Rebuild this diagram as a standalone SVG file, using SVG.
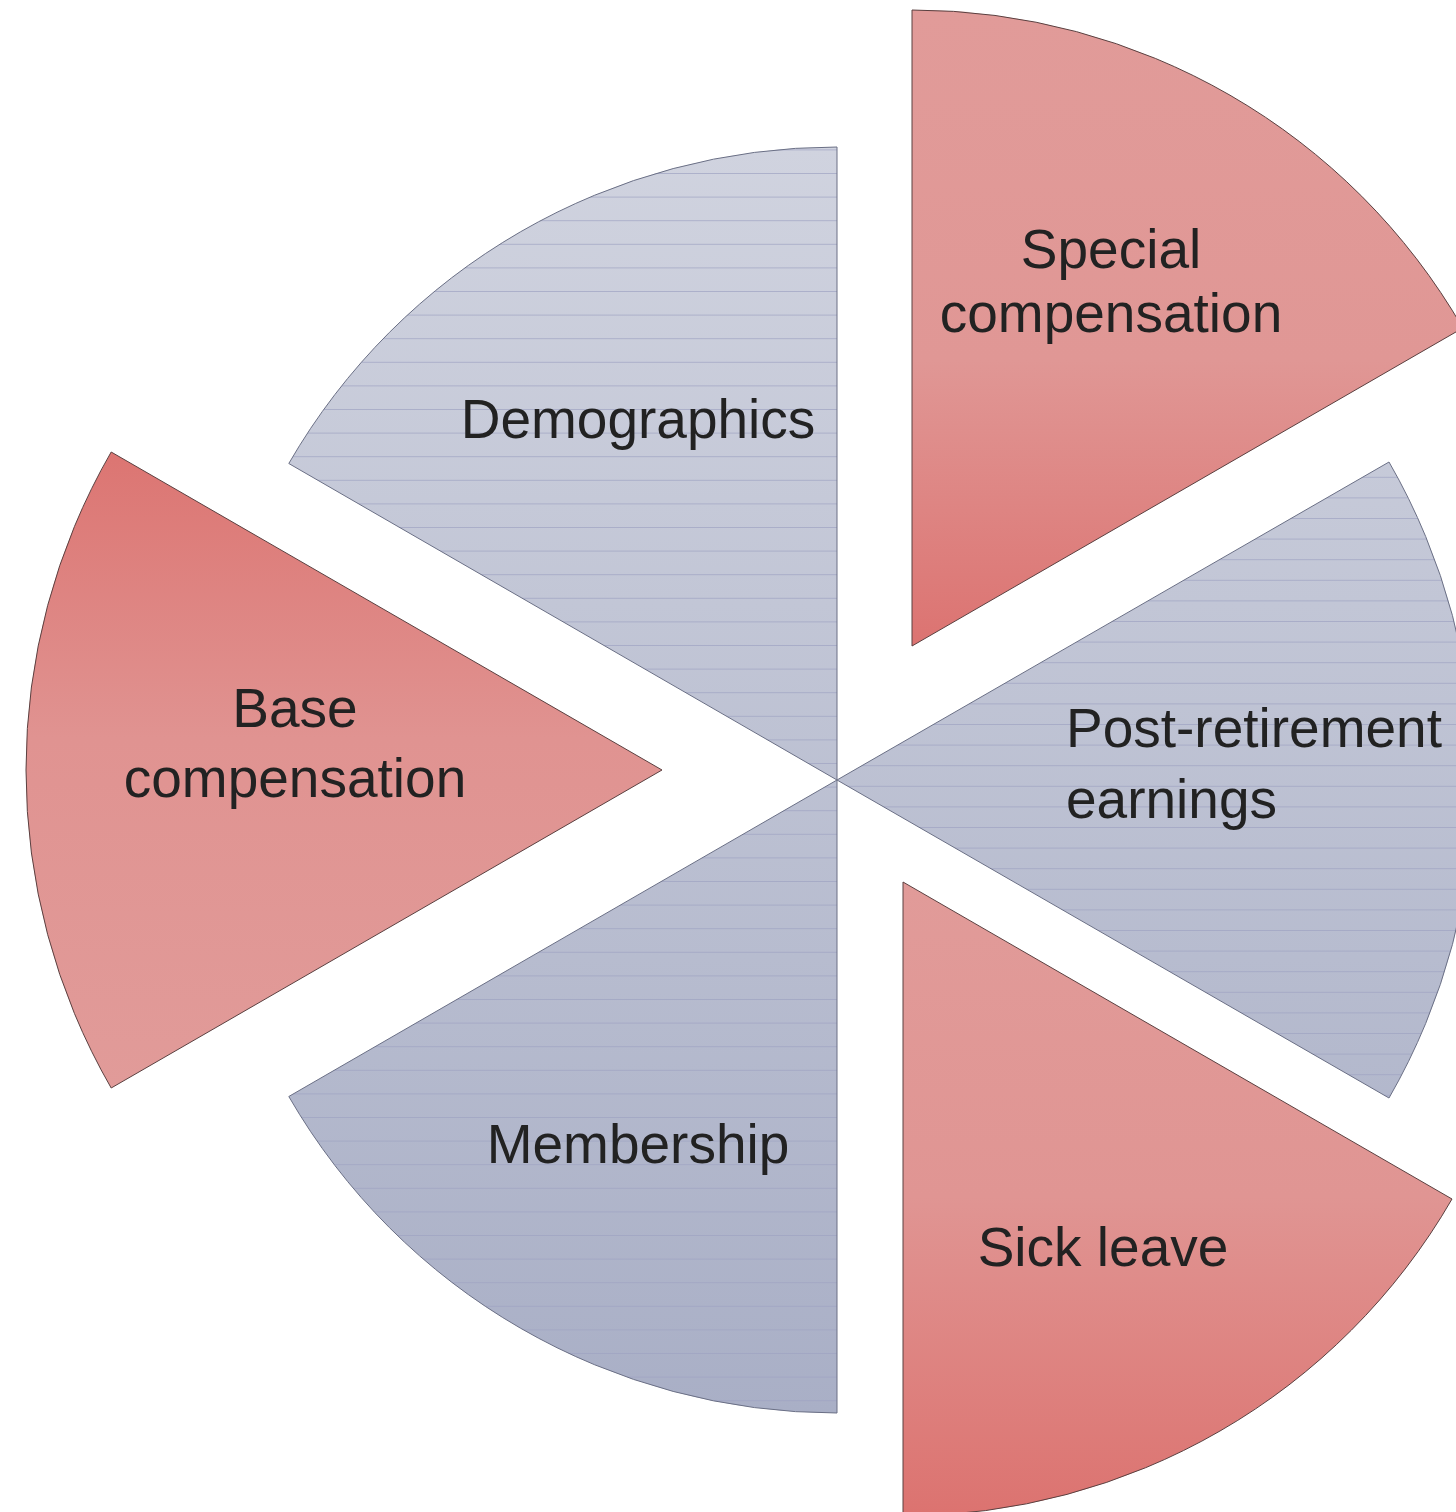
<svg xmlns="http://www.w3.org/2000/svg" width="1456" height="1512" viewBox="0 0 1456 1512">
<style>
.lbl{font-family:"Liberation Sans",Arial,sans-serif;font-size:55px;fill:#222222}
.blue{stroke:#6a6f85;stroke-width:1}
.red{stroke:#5a4040;stroke-width:1}
</style>
<defs>
<linearGradient id="gBlue" gradientUnits="userSpaceOnUse" x1="0" y1="147" x2="0" y2="1413">
<stop offset="0" stop-color="#d0d3df"/>
<stop offset="1" stop-color="#a9afc6"/>
</linearGradient>
<linearGradient id="gSpecial" gradientUnits="userSpaceOnUse" x1="0" y1="10" x2="0" y2="646">
<stop offset="0" stop-color="#e19b99"/>
<stop offset="0.55" stop-color="#e09795"/>
<stop offset="1" stop-color="#dc7371"/>
</linearGradient>
<linearGradient id="gSick" gradientUnits="userSpaceOnUse" x1="0" y1="882" x2="0" y2="1512">
<stop offset="0" stop-color="#e19b99"/>
<stop offset="0.5" stop-color="#e09593"/>
<stop offset="1" stop-color="#dc7370"/>
</linearGradient>
<linearGradient id="gBase" gradientUnits="userSpaceOnUse" x1="0" y1="452" x2="0" y2="1088">
<stop offset="0" stop-color="#dc7572"/>
<stop offset="0.45" stop-color="#e09391"/>
<stop offset="1" stop-color="#e19b99"/>
</linearGradient>
<pattern id="linesA" patternUnits="userSpaceOnUse" x="0" y="7.8" width="40" height="23.6">
<line x1="0" y1="0.5" x2="40" y2="0.5" stroke="#9ea3c2" stroke-width="1" stroke-opacity="0.7"/>
</pattern>
<pattern id="linesB" patternUnits="userSpaceOnUse" x="0" y="3" width="40" height="20.6">
<line x1="0" y1="0.5" x2="40" y2="0.5" stroke="#9ea3c2" stroke-width="1" stroke-opacity="0.7"/>
</pattern>
</defs>
<g id="demographics">
<path d="M837,780 L837,147 A633,633 0 0,0 288.8,463.5 Z" fill="url(#gBlue)"/>
<path d="M837,780 L837,147 A633,633 0 0,0 288.8,463.5 Z" fill="url(#linesA)" class="blue"/>
<text class="lbl" x="638" y="438" text-anchor="middle">Demographics</text>
</g>
<g id="membership">
<path d="M837,780 L288.8,1096.5 A633,633 0 0,0 837,1413 Z" fill="url(#gBlue)"/>
<path d="M837,780 L288.8,1096.5 A633,633 0 0,0 837,1413 Z" fill="url(#linesA)" class="blue"/>
<text class="lbl" x="638" y="1163" text-anchor="middle">Membership</text>
</g>
<g id="post-retirement">
<path d="M837,780 L1389,1098 A637,637 0 0,0 1389,462 Z" fill="url(#gBlue)"/>
<path d="M837,780 L1389,1098 A637,637 0 0,0 1389,462 Z" fill="url(#linesB)" class="blue"/>
<text class="lbl" x="1066" y="747">Post-retirement</text>
<text class="lbl" x="1066" y="818">earnings</text>
</g>
<g id="special-compensation">
<path d="M912,646 L1462.8,328 A636,636 0 0,0 912,10 Z" fill="url(#gSpecial)" class="red"/>
<text class="lbl" x="1111" y="268" text-anchor="middle">Special</text>
<text class="lbl" x="1111" y="332" text-anchor="middle">compensation</text>
</g>
<g id="sick-leave">
<path d="M903,882 L903,1516 A634,634 0 0,0 1452,1199 Z" fill="url(#gSick)" class="red"/>
<text class="lbl" x="1103" y="1266" text-anchor="middle">Sick leave</text>
</g>
<g id="base-compensation">
<path d="M662,770 L111.2,452 A636,636 0 0,0 111.2,1088 Z" fill="url(#gBase)" class="red"/>
<text class="lbl" x="295" y="727" text-anchor="middle">Base</text>
<text class="lbl" x="295" y="797" text-anchor="middle">compensation</text>
</g>
<g id="connectors"/>
</svg>
